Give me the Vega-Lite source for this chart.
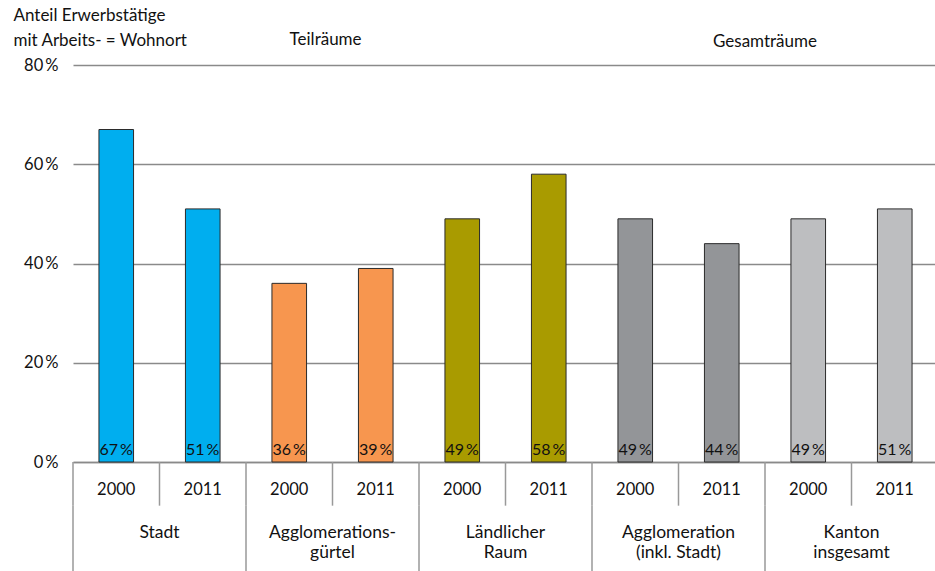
{
  "$schema": "https://vega.github.io/schema/vega-lite/v6.json",
  "autosize": {"type": "none"},
  "padding": {"left": 73, "top": 65, "right": 0, "bottom": 109},
  "width": 865,
  "height": 397,
  "background": "white",
  "config": {
    "font": "Lato",
    "view": {"stroke": null}
  },
  "data": {
    "values": [
      {"key": "Stadt 2000", "group": "Stadt", "year": "2000", "value": 67},
      {"key": "Stadt 2011", "group": "Stadt", "year": "2011", "value": 51},
      {"key": "Agglomerationsgürtel 2000", "group": "Agglomerationsgürtel", "year": "2000", "value": 36},
      {"key": "Agglomerationsgürtel 2011", "group": "Agglomerationsgürtel", "year": "2011", "value": 39},
      {"key": "Ländlicher Raum 2000", "group": "Ländlicher Raum", "year": "2000", "value": 49},
      {"key": "Ländlicher Raum 2011", "group": "Ländlicher Raum", "year": "2011", "value": 58},
      {"key": "Agglomeration 2000", "group": "Agglomeration", "year": "2000", "value": 49},
      {"key": "Agglomeration 2011", "group": "Agglomeration", "year": "2011", "value": 44},
      {"key": "Kanton 2000", "group": "Kanton", "year": "2000", "value": 49},
      {"key": "Kanton 2011", "group": "Kanton", "year": "2011", "value": 51}
    ]
  },
  "encoding": {
    "x": {
      "field": "key",
      "type": "nominal",
      "sort": null,
      "scale": {"paddingInner": 0, "paddingOuter": 0},
      "axis": {
        "orient": "bottom",
        "title": null,
        "labelExpr": "slice(datum.value, -4)",
        "labelAngle": 0,
        "labelFontSize": 16.5,
        "labelColor": "#111",
        "labelPadding": 19,
        "labelBaseline": "top",
        "ticks": false,
        "domainColor": "#8a8a8a",
        "domainWidth": 1.5
      }
    }
  },
  "layer": [
    {
      "mark": {"type": "bar", "width": {"band": 0.4}, "stroke": "#2b2b2b", "strokeWidth": 1},
      "encoding": {
        "y": {
          "field": "value",
          "type": "quantitative",
          "scale": {"domain": [0, 80], "nice": false},
          "axis": {
            "values": [0, 20, 40, 60, 80],
            "labelExpr": "datum.value + '\u2009%'",
            "labelFontSize": 16.5,
            "labelColor": "#111",
            "labelPadding": 15,
            "ticks": false,
            "domain": false,
            "grid": true,
            "gridColor": "#8a8a8a",
            "gridWidth": 1.5,
            "title": ["Anteil Erwerbstätige", "mit Arbeits-  = Wohnort"],
            "titleAngle": 0,
            "titleAlign": "left",
            "titleBaseline": "top",
            "titleX": -60,
            "titleY": -58,
            "titleFontSize": 17,
            "titleFontWeight": "normal",
            "titleColor": "#111",
            "titleLineHeight": 25
          }
        },
        "color": {
          "field": "group",
          "type": "nominal",
          "scale": {
            "domain": ["Stadt", "Agglomerationsgürtel", "Ländlicher Raum", "Agglomeration", "Kanton"],
            "range": ["#00aeef", "#f7964f", "#a99b00", "#939598", "#bdbec0"]
          },
          "legend": null
        }
      }
    },
    {
      "transform": [{"calculate": "datum.value + '\u2009%'", "as": "label"}],
      "mark": {"type": "text", "baseline": "bottom", "dy": -4, "fontSize": 16, "color": "#111"},
      "encoding": {
        "y": {"datum": 0, "type": "quantitative"},
        "text": {"field": "label"}
      }
    },
    {
      "mark": {"type": "rule", "color": "#999", "strokeWidth": 1.5},
      "encoding": {
        "x": {"field": "key", "type": "nominal", "sort": null, "bandPosition": 0},
        "y": {"datum": 0, "type": "quantitative"},
        "y2": {"datum": -8.8}
      }
    },
    {
      "data": {
        "values": [
          {"key": "Stadt 2000", "line1": "Stadt", "line2": ""},
          {"key": "Agglomerationsgürtel 2000", "line1": "Agglomerations-", "line2": "gürtel"},
          {"key": "Ländlicher Raum 2000", "line1": "Ländlicher", "line2": "Raum"},
          {"key": "Agglomeration 2000", "line1": "Agglomeration", "line2": "(inkl. Stadt)"},
          {"key": "Kanton 2000", "line1": "Kanton", "line2": "insgesamt"}
        ]
      },
      "layer": [
        {
          "mark": {"type": "rule", "color": "#999", "strokeWidth": 1.5},
          "encoding": {
            "x": {"field": "key", "type": "nominal", "sort": null, "bandPosition": 0},
            "y": {"datum": -8.8, "type": "quantitative"},
            "y2": {"datum": -22}
          }
        },
        {
          "mark": {"type": "text", "fontSize": 17.5, "color": "#111", "baseline": "middle"},
          "encoding": {
            "x": {"field": "key", "type": "nominal", "sort": null, "bandPosition": 1},
            "y": {"datum": -14.3, "type": "quantitative"},
            "text": {"field": "line1"}
          }
        },
        {
          "mark": {"type": "text", "fontSize": 17.5, "color": "#111", "baseline": "middle"},
          "encoding": {
            "x": {"field": "key", "type": "nominal", "sort": null, "bandPosition": 1},
            "y": {"datum": -18.3, "type": "quantitative"},
            "text": {"field": "line2"}
          }
        }
      ]
    },
    {
      "data": {"values": [{"h": "Teilräume", "key": "Agglomerationsgürtel 2000"}]},
      "mark": {"type": "text", "fontSize": 17, "color": "#111", "baseline": "middle"},
      "encoding": {
        "x": {"field": "key", "type": "nominal", "sort": null, "bandPosition": 0.92},
        "y": {"datum": 85, "type": "quantitative"},
        "text": {"field": "h"}
      }
    },
    {
      "data": {"values": [{"h": "Gesamträume", "key": "Agglomeration 2011"}]},
      "mark": {"type": "text", "fontSize": 17, "color": "#111", "baseline": "middle"},
      "encoding": {
        "x": {"field": "key", "type": "nominal", "sort": null, "bandPosition": 1},
        "y": {"datum": 84.6, "type": "quantitative"},
        "text": {"field": "h"}
      }
    }
  ]
}
